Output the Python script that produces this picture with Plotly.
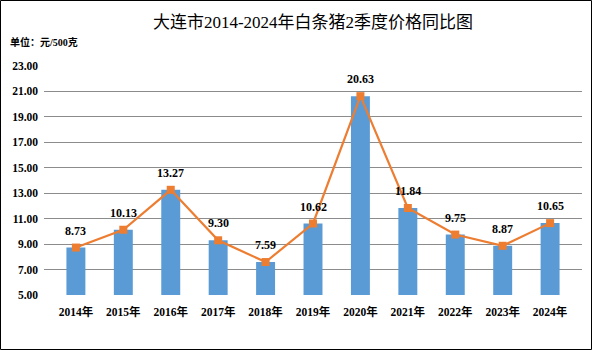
import plotly.graph_objects as go

years = ["2014年", "2015年", "2016年", "2017年", "2018年", "2019年",
         "2020年", "2021年", "2022年", "2023年", "2024年"]
prices = [8.73, 10.13, 13.27, 9.30, 7.59, 10.62, 20.63, 11.84, 9.75, 8.87, 10.65]
y_ticks = [5, 7, 9, 11, 13, 15, 17, 19, 21, 23]

FONT = "Liberation Serif, Noto Sans CJK SC, serif"
W, H = 592, 350
ML, MR, MT, MB = 44, 10, 66, 55
pw, ph = W - ML - MR, H - MT - MB

fig = go.Figure()
fig.add_trace(go.Bar(
    x=years, y=prices, width=0.40,
    marker=dict(color="#5B9BD5", line=dict(width=0)),
    showlegend=False, hoverinfo="skip",
))
fig.add_trace(go.Scatter(
    x=years, y=prices, mode="lines+markers",
    line=dict(color="#ED7D31", width=2.2),
    marker=dict(symbol="square", size=8, color="#ED7D31"),
    showlegend=False, cliponaxis=False,
))

# value labels above each point
labels = [dict(x=yr, y=v, text=f"{v:.2f}", xref="x", yref="y",
               showarrow=False, yshift=17, yanchor="middle",
               font=dict(family=FONT, size=12, weight="bold", color="#000000"))
          for yr, v in zip(years, prices)]

labels.append(dict(text="单位：元/500克", xref="paper", yref="paper",
                   x=(8 - ML) / pw, y=1 + (MT - 42) / ph,
                   xanchor="left", yanchor="middle", showarrow=False,
                   font=dict(family=FONT, size=10, weight="bold")))

fig.update_layout(
    width=W, height=H,
    margin=dict(l=ML, r=MR, t=MT, b=MB),
    paper_bgcolor="white", plot_bgcolor="white",
    font=dict(family=FONT, size=11, color="#000000"),
    title=dict(text="大连市2014-2024年白条猪2季度价格同比图", x=0.5, xref="paper",
               y=1 - 22 / H, yanchor="middle",
               font=dict(family=FONT, size=17, color="#000000")),
    xaxis=dict(showgrid=False, showline=False, ticks="", ticklabelstandoff=8,
               tickfont=dict(family=FONT, size=11.5, weight="bold")),
    yaxis=dict(range=[5, 23], tickvals=y_ticks,
               ticktext=[f"{v:.2f}" for v in y_ticks],
               showgrid=True, gridcolor="#8C8C8C", gridwidth=1,
               zeroline=False, showline=False, ticks="", ticklabelstandoff=5,
               tickfont=dict(family=FONT, size=11.5, weight="bold")),
    shapes=[dict(type="rect", xref="paper", yref="paper",
                 x0=(0.5 - ML) / pw, x1=(W - 0.5 - ML) / pw,
                 y0=-(MB - 0.5) / ph, y1=1 + (MT - 0.5) / ph,
                 line=dict(color="#000000", width=1))],
    annotations=labels,
)

fig.write_html("out.html")
